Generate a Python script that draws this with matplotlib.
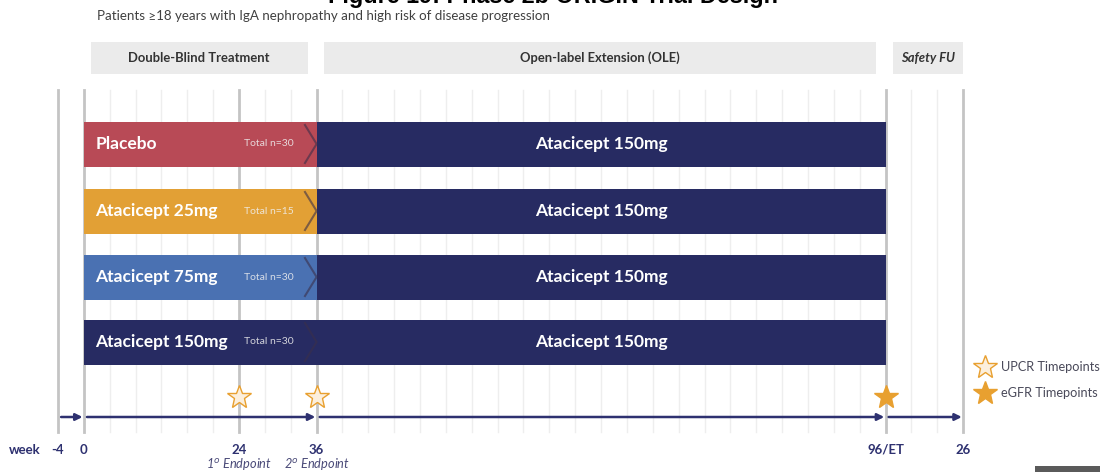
import numpy as np
import matplotlib.pyplot as plt
from matplotlib.patches import Rectangle

plt.rcParams["font.family"] = ["Lato", "DejaVu Sans"]

# Study arms (double-blind part)
arms = ["Placebo", "Atacicept 25mg", "Atacicept 75mg", "Atacicept 150mg"]
arm_n = [30, 15, 30, 30]
arm_colors = ["#b84a56", "#e2a035", "#4a71b2", "#272b62"]
ole_label = "Atacicept 150mg"

# Timeline milestones (grid slot index, label)
week_slots = [0, 1, 7, 10, 32, 35]
week_labels = ["-4", "0", "24", "36", "96/ET", "26"]
endpoint_slots = [7, 10]
endpoint_labels = [r"1$^{o}$ Endpoint", r"2$^{o}$ Endpoint"]

# Phases: start slot, end slot
phases = ["Double-Blind Treatment", "Open-label Extension (OLE)", "Safety FU"]
phase_start = [1, 10, 32]
phase_end = [10, 32, 35]

upcr_slots = [7, 10]
egfr_slots = [32]

NAVY = "#272b62"
ORANGE = "#e8a030"
PX_PER_SLOT = 25.86
X0 = 58  # pixel of slot 0

fig = plt.figure(figsize=(11, 4.72), dpi=100)
ax = fig.add_axes([0, 0, 1, 1])
ax.set_xlim(-X0 / PX_PER_SLOT, (1100 - X0) / PX_PER_SLOT)
ax.set_ylim(472, 0)
ax.set_axis_off()

# title (cut at top, as in the source) and subtitle
ax.text((553 - X0) / PX_PER_SLOT, 3, "Figure 19: Phase 2b ORIGIN Trial Design",
        ha="center", va="baseline", fontsize=16.8, fontweight="bold",
        family=["Liberation Sans", "DejaVu Sans"], color="black")
ax.text((97 - X0) / PX_PER_SLOT, 16, "Patients \u226518 years with IgA nephropathy and high risk of disease progression",
        ha="left", va="center", fontsize=9.6, color="#404040")

# grid lines
for s in range(0, 36):
    major = s in week_slots
    ax.plot([s, s], [90, 432], color="#c4c4c4" if major else "#eeeeee",
            lw=2 if major else 1, zorder=0)

# phase header boxes
for name, s0, s1 in zip(phases, phase_start, phase_end):
    a = s0 + 0.27
    b = s1 - 0.35 if s1 < 35 else s1
    ax.add_patch(Rectangle((a, 42), b - a, 32, facecolor="#ebebeb", edgecolor="none", zorder=1))
    ax.text((a + b) / 2, 58, name, ha="center", va="center", fontsize=9.4,
            fontweight="bold", style="italic" if name == "Safety FU" else "normal", color="#333333")

# bars
row_y = [144, 211, 277, 342]
for arm, n, col, y in zip(arms, arm_n, arm_colors, row_y):
    ax.barh(y, phase_end[0] - phase_start[0], left=phase_start[0], height=45,
            color=col, edgecolor="none", zorder=2)
    ax.barh(y, phase_end[1] - phase_start[1], left=phase_start[1], height=45,
            color=NAVY, edgecolor="none", zorder=2)
    ax.plot([phase_end[0] - 0.45, phase_end[0], phase_end[0] - 0.45], [y - 19, y, y + 19],
            color="#3a2f4a", lw=1.5, alpha=0.6, zorder=3)
    ax.text(phase_start[0] + 0.45, y, arm, ha="left", va="center", fontsize=12.5,
            fontweight="bold", color="white", zorder=4)
    ax.text(phase_end[0] - 0.9, y, f"Total n={n}", ha="right", va="center", fontsize=7.5,
            color="#f0f0f0", alpha=0.85, zorder=4)
    ax.text((phase_start[1] + phase_end[1]) / 2, y, ole_label, ha="center", va="center",
            fontsize=12.5, fontweight="bold", color="white", zorder=4)

# stars
ax.plot(upcr_slots, [397] * len(upcr_slots), ls="none", marker="*", ms=18,
        mfc="#fcefdc", mec=ORANGE, mew=1.0, zorder=5)
ax.plot(egfr_slots, [397] * len(egfr_slots), ls="none", marker="*", ms=18,
        mfc=ORANGE, mec=ORANGE, zorder=5)

# legend
lx = (985 - X0) / PX_PER_SLOT
ax.plot([lx], [367], marker="*", ms=18, mfc="#fcefdc", mec=ORANGE, mew=1.0, clip_on=False)
ax.plot([lx], [393], marker="*", ms=18, mfc=ORANGE, mec=ORANGE, clip_on=False)
ax.text(lx + 0.6, 367, "UPCR Timepoints", ha="left", va="center", fontsize=9.2, color="#4a4a5a")
ax.text(lx + 0.6, 393, "eGFR Timepoints", ha="left", va="center", fontsize=9.2, color="#4a4a5a")

# timeline arrows
segs = [(0, 1), (1, 10), (10, 32), (32, 35)]
for s0, s1 in segs:
    ax.annotate("", xy=(s1 - 0.05, 417), xytext=(s0 + 0.12, 417),
                arrowprops=dict(arrowstyle="-|>", color="#2e3170", lw=1.8,
                                mutation_scale=10, shrinkA=0, shrinkB=0), zorder=5)

# week labels
ax.text((25 - X0) / PX_PER_SLOT, 450, "week", ha="center", va="center", fontsize=9.5,
        fontweight="bold", color="#2e3170")
for s, lab in zip(week_slots, week_labels):
    ax.text(s, 450, lab, ha="center", va="center", fontsize=9.5, fontweight="bold", color="#2e3170")
for s, lab in zip(endpoint_slots, endpoint_labels):
    ax.text(s, 464, lab, ha="center", va="center", fontsize=9.2, style="italic", color="#4a4a78")

# cropped artefact at bottom right
ax.add_patch(Rectangle(((1035 - X0) / PX_PER_SLOT, 466), 70 / PX_PER_SLOT, 8,
                       facecolor="#5a5a5a", edgecolor="none", clip_on=False))

fig.savefig("out.png", dpi=100)
